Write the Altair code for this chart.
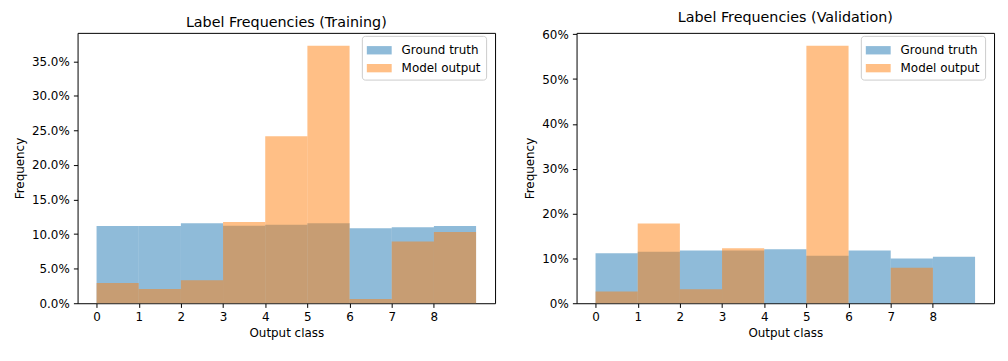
import altair as alt
import pandas as pd

classes = [0, 1, 2, 3, 4, 5, 6, 7, 8]
series_names = ["Ground truth", "Model output"]
series_colors = ["#1f77b4", "#ff7f0e"]

# Percent values per class
train_truth = [11.17, 11.17, 11.55, 11.2, 11.36, 11.55, 10.84, 10.98, 11.17]
train_model = [2.92, 2.06, 3.31, 11.74, 24.16, 37.25, 0.62, 8.92, 10.31]
val_truth = [11.16, 11.46, 11.75, 11.75, 12.05, 10.57, 11.75, 9.98, 10.35]
val_model = [2.59, 17.81, 3.1, 12.27, 0.0, 57.45, 0.0, 7.91, 0.0]

train_ticks = [0, 0.05, 0.10, 0.15, 0.20, 0.25, 0.30, 0.35]
val_ticks = [0, 0.1, 0.2, 0.3, 0.4, 0.5, 0.6]

FONT = "DejaVu Sans"


def panel(title, truth, model, ymax, fmt, ticks):
    rows = []
    for k, (name, vals) in enumerate(zip(series_names, [truth, model])):
        for c, v in zip(classes, vals):
            rows.append({"start": c, "end": c + 1, "series": name,
                         "value": v / 100.0, "ord": k})
    df = pd.DataFrame(rows)
    return alt.Chart(df, title=alt.Title(title)).mark_bar(opacity=0.5).encode(
        x=alt.X("start:Q",
                scale=alt.Scale(domain=[-0.45, 9.45], nice=False, zero=False),
                axis=alt.Axis(values=classes, format="d", title="Output class")),
        x2="end:Q",
        y=alt.Y("value:Q", stack=None,
                scale=alt.Scale(domain=[0, ymax], nice=False),
                axis=alt.Axis(values=ticks, format=fmt, title="Frequency")),
        y2=alt.datum(0),
        color=alt.Color("series:N",
                        scale=alt.Scale(domain=series_names, range=series_colors),
                        legend=alt.Legend(
                            title=None, orient="none", legendX=286, legendY=3,
                            padding=5, strokeColor="#cccccc",
                            fillColor="rgba(255,255,255,0.8)", cornerRadius=3,
                            symbolType="M-1.316,-0.442L1.316,-0.442L1.316,0.442L-1.316,0.442Z",
                            symbolSize=361, symbolOpacity=0.5, symbolStrokeWidth=0,
                            symbolOffset=3, labelOffset=13, rowPadding=2,
                            labelFont=FONT, labelFontSize=12, labelColor="black")),
        order=alt.Order("ord:Q"),
    ).properties(width=420, height=272)


left = panel("Label Frequencies (Training)", train_truth, train_model, 0.391, ".1%", train_ticks)
right = panel("Label Frequencies (Validation)", val_truth, val_model, 0.603, ".0%", val_ticks)

chart = alt.hconcat(left, right, spacing=27).resolve_legend(
    color="independent").properties(
    padding={"left": 5, "top": 0, "right": 5, "bottom": 5}
).configure_axis(
    labelFont=FONT, labelFontSize=12, labelColor="black",
    titleFont=FONT, titleFontSize=12, titleFontWeight="normal", titleColor="black",
    tickColor="black", tickSize=4.2, tickWidth=1, labelPadding=4.2,
    grid=False, domain=False, titlePadding=4.8
).configure_view(
    stroke="black", strokeWidth=1
).configure_title(
    font=FONT, fontSize=14.4, fontWeight="normal", color="black", offset=2.5
)

chart.save("out.html", embed_options={"renderer": "svg", "actions": False})
